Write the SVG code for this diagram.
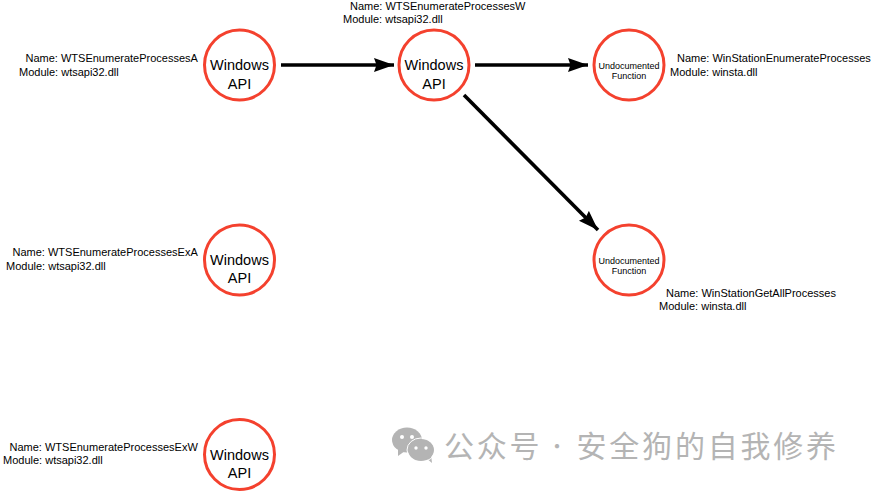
<svg xmlns="http://www.w3.org/2000/svg" width="875" height="492" viewBox="0 0 875 492">
<style>
text{font-family:"Liberation Sans",Arial,sans-serif;fill:#000}
.n{fill:#fff;stroke:#f4412e;stroke-width:3}
.big{font-size:14.500px;text-anchor:middle}
.small{font-size:9px;text-anchor:middle}
.lb{font-size:11px}
.c{fill:none;stroke:#000;stroke-width:3.600}
.wm{font-family:"Noto Sans CJK SC",sans-serif;font-size:30px;letter-spacing:2.800px;fill:#b4b4b4}
.dot{font-family:"Noto Sans CJK SC",sans-serif;font-size:20px;fill:#b4b4b4}
.ic{fill:#b4b4b4}
.ey{fill:#fff}
</style>
<defs>
<marker id="a" markerUnits="userSpaceOnUse" markerWidth="22" markerHeight="16" refX="20" refY="7.500" orient="auto">
<path d="M0 0.500L20 7.500L0 14.500L2.500 7.500Z" fill="#000"/>
</marker>
</defs>
<rect width="875" height="492" fill="#fff"/>
<g id="connectors">
<path class="c" marker-end="url(#a)" d="M281 65H394"/>
<path class="c" marker-end="url(#a)" d="M475 65H588"/>
<path class="c" marker-end="url(#a)" d="M464 95L598 230"/>
</g>
<g id="api-a"><circle class="n" cx="239.500" cy="65" r="35"/><text class="big" x="239.500" y="70">Windows</text><text class="big" x="239.500" y="89">API</text>
<text class="lb" x="25.500" y="62">Name: WTSEnumerateProcessesA</text><text class="lb" x="19" y="75.500">Module: wtsapi32.dll</text></g>
<g id="api-w"><circle class="n" cx="434" cy="65" r="35"/><text class="big" x="434" y="70">Windows</text><text class="big" x="434" y="89">API</text>
<text class="lb" x="350" y="10">Name: WTSEnumerateProcessesW</text><text class="lb" x="343" y="23">Module: wtsapi32.dll</text></g>
<g id="undoc-enum"><circle class="n" cx="629" cy="65" r="35"/><text class="small" x="629" y="69">Undocumented</text><text class="small" x="629" y="79">Function</text>
<text class="lb" x="677" y="62">Name: WinStationEnumerateProcesses</text><text class="lb" x="670" y="75.500">Module: winsta.dll</text></g>
<g id="undoc-all"><circle class="n" cx="629" cy="260" r="35"/><text class="small" x="629" y="264">Undocumented</text><text class="small" x="629" y="274">Function</text>
<text class="lb" x="666" y="297">Name: WinStationGetAllProcesses</text><text class="lb" x="659" y="310">Module: winsta.dll</text></g>
<g id="api-exa"><circle class="n" cx="239.500" cy="260" r="35"/><text class="big" x="239.500" y="265">Windows</text><text class="big" x="239.500" y="283">API</text>
<text class="lb" x="12.500" y="256">Name: WTSEnumerateProcessesExA</text><text class="lb" x="6" y="270">Module: wtsapi32.dll</text></g>
<g id="api-exw"><circle class="n" cx="239.500" cy="454.500" r="35"/><text class="big" x="239.500" y="459.500">Windows</text><text class="big" x="239.500" y="477.500">API</text>
<text class="lb" x="9.500" y="451">Name: WTSEnumerateProcessesExW</text><text class="lb" x="3" y="464">Module: wtsapi32.dll</text></g>
<g id="watermark">
<ellipse class="ic" cx="407" cy="440" rx="15" ry="12.500"/><path class="ic" d="M398 449l0 7 7-5z"/>
<ellipse class="ic" cx="421" cy="450" rx="13" ry="11"/><path class="ic" d="M426 458l6 5-1-8z"/>
<ellipse cx="421" cy="450" rx="14" ry="12" fill="none" stroke="#fff" stroke-width="1"/>
<circle class="ey" cx="402" cy="437" r="2"/><circle class="ey" cx="412" cy="437" r="2"/>
<circle class="ey" cx="416" cy="448" r="1.700"/><circle class="ey" cx="426" cy="448" r="1.700"/>
<text class="wm" x="444" y="457">公众号</text><text class="dot" x="547" y="454">·</text><text class="wm" x="576.500" y="457">安全狗的自我修养</text>
</g>
</svg>
